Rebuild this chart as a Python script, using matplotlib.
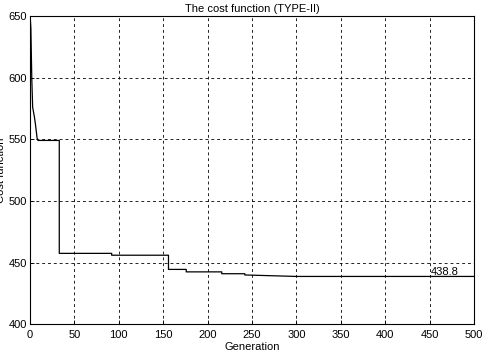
import matplotlib
matplotlib.use("Agg")
import matplotlib.pyplot as plt

# Data (vertices of the best-cost curve)
generation = [0, 1, 2, 3, 4, 5, 6, 7, 8, 9, 33, 33, 92, 92, 156, 156, 176, 176, 216, 216, 242, 242, 300, 500]
cost = [652, 640, 600, 576, 572, 568, 563, 557, 551, 549, 549, 457.5, 457.5, 456, 456, 444.5, 444.5, 442.5, 442.5, 441, 441, 440, 438.8, 438.8]
final_label = "438.8"
xticks = [0, 50, 100, 150, 200, 250, 300, 350, 400, 450, 500]
yticks = [400, 450, 500, 550, 600, 650]

plt.rcParams['font.family'] = ['Liberation Sans', 'DejaVu Sans']
plt.rcParams['font.size'] = 8

fig = plt.figure(figsize=(4.82, 3.51), dpi=100)
ax = fig.add_axes([0.0622, 0.076, 0.921, 0.879])
ax.plot(generation, cost, color='black', linewidth=0.9)
ax.set_xlim(0, 500)
ax.set_ylim(400, 650)
ax.set_xticks(xticks)
ax.set_yticks(yticks)
ax.grid(True, color='black', linestyle=(0, (3.5, 3.5)), linewidth=0.6)
ax.tick_params(direction='in', length=3, width=0.6, pad=2)
ax.tick_params(axis='x', pad=4)
for s in ax.spines.values():
    s.set_linewidth(0.8)
ax.set_title("The cost function (TYPE-II)", fontsize=8, pad=3)
ax.set_xlabel("Generation", labelpad=1.5)
ax.set_ylabel("Cost function")
ax.yaxis.set_label_coords(-0.055, 0.5)
ax.text(451, 440.3, final_label, ha='left', va='baseline', fontsize=8)
fig.savefig("out.png", dpi=100)
